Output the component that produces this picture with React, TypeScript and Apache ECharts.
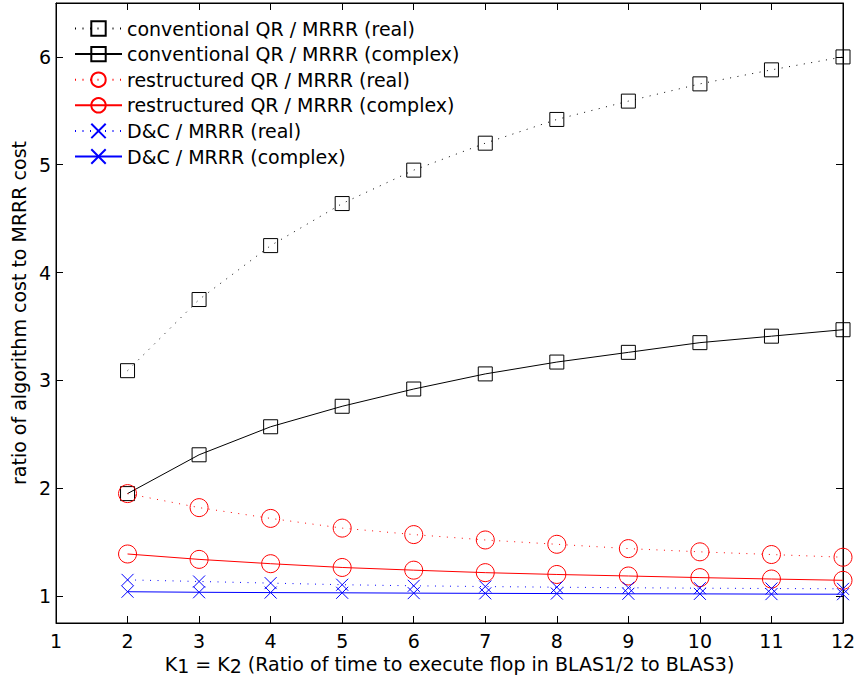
import React, { useEffect, useRef } from "react";
import * as echarts from "echarts";

const FONT = "DejaVu Sans";

const kValues = [2, 3, 4, 5, 6, 7, 8, 9, 10, 11, 12];
const convReal = [3.09, 3.75, 4.25, 4.64, 4.95, 5.2, 5.42, 5.59, 5.75, 5.88, 6.0];
const convComplex = [1.95, 2.31, 2.57, 2.76, 2.92, 3.06, 3.17, 3.26, 3.35, 3.41, 3.47];
const restrReal = [1.95, 1.82, 1.72, 1.63, 1.57, 1.52, 1.48, 1.44, 1.41, 1.385, 1.36];
const restrComplex = [1.39, 1.34, 1.3, 1.265, 1.24, 1.217, 1.2, 1.186, 1.171, 1.158, 1.146];
const dcReal = [1.15, 1.135, 1.12, 1.105, 1.095, 1.088, 1.082, 1.077, 1.073, 1.07, 1.067];
const dcComplex = [1.04, 1.035, 1.032, 1.03, 1.027, 1.025, 1.023, 1.021, 1.02, 1.018, 1.017];

const yTicks = [1, 2, 3, 4, 5, 6];

const seriesNames = [
  "conventional QR / MRRR (real)",
  "conventional QR / MRRR (complex)",
  "restructured QR / MRRR (real)",
  "restructured QR / MRRR (complex)",
  "D&C / MRRR (real)",
  "D&C / MRRR (complex)",
];

const X_PATH = "path://M0 0L10 10M10 0L0 10";
const DOT: number[] = [1, 6.5];

function mk(name: string, values: number[], color: string, symbol: string, size: number, dotted: boolean) {
  return {
    name,
    type: "line",
    data: kValues.map((k, i) => [k, values[i]]),
    symbol,
    symbolSize: size,
    showSymbol: true,
    silent: true,
    itemStyle: { color: "transparent", borderColor: color, borderWidth: 1 },
    lineStyle: { color, width: 1, type: dotted ? DOT : "solid" },
    emphasis: { disabled: true },
  };
}

export default function App() {
  const ref = useRef<HTMLDivElement>(null);
  useEffect(() => {
    const chart = echarts.init(ref.current!, null, { renderer: "svg" });
    const axisCommon = {
      axisLine: { show: true, onZero: false, lineStyle: { color: "#000", width: 1 } },
      axisTick: { show: true, inside: true, length: 7, lineStyle: { color: "#000", width: 1 } },
      splitLine: { show: false },
    };
    const labelStyle = { color: "#000", fontSize: 19, fontFamily: FONT };
    chart.setOption({
      animation: false,
      backgroundColor: "#fff",
      textStyle: { fontFamily: FONT },
      grid: {
        left: 56,
        right: 12,
        top: 3,
        bottom: 54,
        outerBoundsMode: "none",
        containLabel: false,
        show: true,
        borderColor: "#000",
        borderWidth: 1,
      },
      legend: {
        orient: "vertical",
        left: 69,
        top: 14,
        itemWidth: 47,
        itemHeight: 18,
        itemGap: 6.6,
        data: seriesNames,
        selectedMode: false,
        textStyle: { color: "#000", fontSize: 19, fontFamily: FONT, lineHeight: 18 },
      },
      xAxis: [
        {
          type: "value",
          min: 1,
          max: 12,
          interval: 1,
          position: "bottom",
          ...axisCommon,
          axisLabel: { ...labelStyle, margin: 8 },
          name: "{n|K}{s|1}{n| = K}{s|2}{n| (Ratio of time to execute flop in BLAS1/2 to BLAS3)}",
          nameLocation: "middle",
          nameMoveOverlap: false,
          nameGap: 31,
          nameTextStyle: {
            ...labelStyle,
            rich: {
              n: { ...labelStyle, verticalAlign: "top", lineHeight: 20 },
              s: { ...labelStyle, verticalAlign: "top", lineHeight: 20, padding: [2, 0, 0, 0] },
            },
          },
        },
        {
          type: "value",
          min: 1,
          max: 12,
          interval: 1,
          position: "top",
          ...axisCommon,
          axisLabel: { show: false },
        },
      ],
      yAxis: [
        {
          type: "value",
          min: 0.75,
          max: 6.5,
          position: "left",
          ...axisCommon,
          axisTick: { ...axisCommon.axisTick, customValues: yTicks },
          axisLabel: { ...labelStyle, margin: 5, customValues: yTicks },
          name: "ratio of algorithm cost to MRRR cost",
          nameLocation: "middle",
          nameGap: 21,
          nameTextStyle: { ...labelStyle },
        },
        {
          type: "value",
          min: 0.75,
          max: 6.5,
          position: "right",
          ...axisCommon,
          axisTick: { ...axisCommon.axisTick, customValues: yTicks },
          axisLabel: { show: false, customValues: yTicks },
        },
      ],
      series: [
        mk(seriesNames[0], convReal, "#000", "rect", 14, true),
        mk(seriesNames[1], convComplex, "#000", "rect", 14, false),
        mk(seriesNames[2], restrReal, "#f00", "circle", 18, true),
        mk(seriesNames[3], restrComplex, "#f00", "circle", 18, false),
        mk(seriesNames[4], dcReal, "#00f", X_PATH, 12, true),
        mk(seriesNames[5], dcComplex, "#00f", X_PATH, 12, false),
      ],
    });
    return () => chart.dispose();
  }, []);
  return <div ref={ref} style={{ position: "fixed", left: 0, top: 0, width: 855, height: 677 }} />;
}
